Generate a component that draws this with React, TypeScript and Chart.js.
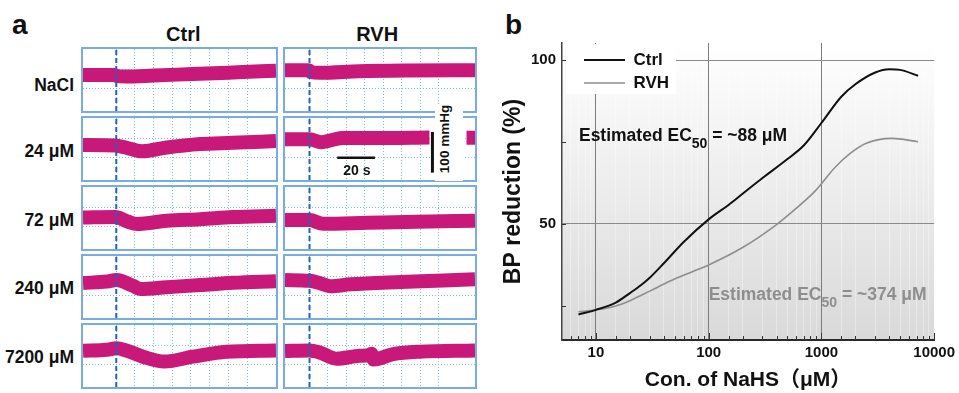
import React, { useEffect, useRef } from 'react';
import { Chart, registerables } from 'chart.js';

Chart.register(...registerables);

const FONT = "'Liberation Sans', Arial, Helvetica, 'Noto Sans CJK SC', sans-serif";

// ---------------- Panel a : blood-pressure recordings ----------------
const groups = ['Ctrl', 'RVH'];
const doseLabels = ['NaCl', '24 μM', '72 μM', '240 μM', '7200 μM'];
const stimulusTime = 10; // s, NaHS / NaCl injection
const ctrlWindow = [-7.8, 95.5]; // s
const rvhWindow = [-3.3, 99.8]; // s
const bpWindow = [-7, 153]; // display units

// trace centre lines (time in s, pressure in display units)
const ctrlNaClT = [-7.8, 9, 10.5, 15, 30, 51, 70, 81, 95.5];
const ctrlNaClP = [86, 86, 83, 82, 84.5, 88.5, 92, 94.3, 96.7];
const rvhNaClT = [-3.3, 9.5, 11, 15.5, 37, 64, 99.8];
const rvhNaClP = [98, 98, 93, 91.5, 95.7, 97.5, 98];

const ctrl24T = [-7.8, 9.5, 17, 24, 37, 55, 72, 95.5];
const ctrl24P = [83.5, 82, 74, 67, 77, 86, 89, 93.5];
const rvh24T = [-3.3, 10, 16.4, 22, 28.2, 46.3, 75.1, 85, 95.2, 99.8];
const rvh24P = [98.2, 98.2, 90.5, 96, 101.3, 101.3, 102.6, null, 102, 102];

const ctrl72T = [-7.8, 9.5, 16, 21.2, 37, 55, 72.5, 95.5];
const ctrl72P = [74.3, 75.6, 64, 57.5, 65.8, 69.9, 75.6, 78.7];
const rvh72T = [-3.3, 10, 17.5, 41.3, 68.4, 99.8];
const rvh72P = [67.8, 67.8, 58, 60.6, 63.5, 65.8];

const ctrl240T = [-7.8, 5, 10, 19, 22.8, 37, 55, 72.5, 95.5];
const ctrl240P = [83.3, 87, 91, 76, 67.8, 72.5, 78, 83.8, 88];
const rvh240T = [-3.3, 10, 15, 21.3, 32.2, 59.4, 99.8];
const rvh240P = [91, 89, 84, 75, 79.9, 85.9, 93];

const ctrl7200T = [-7.8, 5, 10, 15.3, 24.3, 35.8, 51, 68.8, 95.5];
const ctrl7200P = [86.4, 89, 92.8, 87.2, 71.2, 58.8, 71.2, 84.1, 87.2];
const rvh7200T = [-3.3, 10, 15.5, 24.6, 37.2, 42.2, 43.5, 44.8, 55.4, 69.8, 99.8];
const rvh7200P = [85.9, 87.2, 82, 66, 73.5, 75, 79, 64, 77.6, 84.1, 87.2];

// scale bars (20 s, 100 mmHg)
const scaleBarTime = [25, 45.5];
const scaleBarTimeLevel = 50.5;
const scaleBarPressure = [12, 117];
const scaleBarPressureAt = 76.7;

// ---------------- Panel b : concentration–response ----------------
const ctrlConc = [7, 10, 15, 20, 25, 30, 40, 60, 100, 150, 200, 300, 500, 700, 1000, 1500, 2000, 3000, 4000, 5000, 7200];
const ctrlResp = [22.4, 23.8, 26.0, 28.9, 31.3, 33.6, 38.0, 44.5, 51.4, 55.8, 59.2, 64, 69.8, 74, 80.8, 88.8, 92.6, 96.2, 97.2, 97, 95.2];
const rvhConc = [7, 10, 15, 20, 30, 45, 70, 100, 200, 400, 600, 900, 1300, 1800, 2500, 4200, 7200];
const rvhResp = [23.2, 23.8, 25.0, 26.6, 29.5, 32.5, 35.3, 37.5, 42.8, 49.8, 54.8, 60.4, 67, 71.5, 74.6, 76.1, 75.1];
const ec50 = [88, 374];
const concLabelled = [10, 100, 1000, 10000];
const respLabelled = [50, 100];

// ---------------- helpers ----------------
const toPts = (xs: number[], ys: (number | null)[]) => xs.map((x, i) => ({ x, y: ys[i] }));

const TRACE = '#c8197a';
const STIM = '#1f63bf';
const GRID = 'rgba(95,185,198,0.85)';
const CLEAR = 'rgba(0,0,0,0)';

const onStep = (c: any, s: number) => {
  if (!c.tick) return CLEAR;
  const r = c.tick.value / s;
  return Math.abs(r - Math.round(r)) < 1e-6 ? GRID : CLEAR;
};

function traceConfig(t: number[], p: (number | null)[], win: number[], extra: any[] = []) {
  return {
    type: 'line',
    data: {
      datasets: [
        ...extra,
        {
          data: [{ x: stimulusTime, y: bpWindow[0] }, { x: stimulusTime, y: bpWindow[1] }],
          borderColor: STIM, borderWidth: 2, borderDash: [5, 3], pointRadius: 0,
        },
        {
          data: toPts(t, p), borderColor: TRACE, borderWidth: 14, pointRadius: 0,
          cubicInterpolationMode: 'monotone', borderCapStyle: 'butt', borderJoinStyle: 'round', spanGaps: false,
        },
      ],
    },
    options: {
      animation: false, responsive: false, events: [],
      layout: { padding: 0 },
      plugins: { legend: { display: false }, tooltip: { enabled: false } },
      scales: {
        x: {
          type: 'linear', min: win[0], max: win[1],
          ticks: { display: false, stepSize: 10 },
          grid: { drawTicks: false, color: (c: any) => onStep(c, 10), lineWidth: 1 },
          border: { display: false, dash: [1, 2] },
        },
        y: {
          type: 'linear', min: bpWindow[0], max: bpWindow[1],
          ticks: { display: false, stepSize: 50 },
          grid: { drawTicks: false, color: (c: any) => onStep(c, 50), lineWidth: 1 },
          border: { display: false, dash: [1, 2] },
        },
      },
    },
  };
}

const isDecade = (v: number) => {
  const l = Math.log10(v);
  return Math.abs(l - Math.round(l)) < 1e-9;
};

function drawEC(ctx: CanvasRenderingContext2D, x: number, y: number, value: number, color: string) {
  ctx.save();
  ctx.fillStyle = color;
  ctx.textBaseline = 'middle';
  ctx.textAlign = 'left';
  ctx.font = `bold 17.5px ${FONT}`;
  const a = 'Estimated EC';
  ctx.fillText(a, x, y);
  let w = ctx.measureText(a).width;
  ctx.font = `bold 14px ${FONT}`;
  ctx.fillText('50', x + w, y + 8);
  w += ctx.measureText('50').width;
  ctx.font = `bold 17.5px ${FONT}`;
  ctx.fillText(` = ~${value} μM`, x + w, y);
  ctx.restore();
}

const doseResponsePlugin = {
  id: 'doseResponseDecor',
  afterLayout(chart: any) {
    const lg = chart.legend;
    const ca = chart.chartArea;
    if (lg && ca) {
      lg.left = ca.left + 16;
      lg.top = ca.top + 2.5;
    }
  },
  beforeDraw(chart: any) {
    const { ctx, chartArea: ca } = chart;
    const g = ctx.createLinearGradient(0, ca.top, 0, ca.bottom);
    g.addColorStop(0, '#ffffff');
    g.addColorStop(1, '#d9d9d9');
    ctx.save();
    ctx.fillStyle = g;
    ctx.fillRect(ca.left, ca.top, ca.right - ca.left, ca.bottom - ca.top);
    ctx.restore();
  },
  afterDraw(chart: any) {
    const { ctx, chartArea: ca, scales } = chart;
    const xs = scales.x;
    const ys = scales.y;
    ctx.save();
    ctx.fillStyle = '#ffffff';
    ctx.fillRect(ca.left + 4, ca.top + 1, 110, 50);
    ctx.restore();
    if (chart.legend) chart.legend.draw();
    // inward tick marks
    ctx.save();
    ctx.strokeStyle = '#333';
    ctx.lineWidth = 1;
    ctx.beginPath();
    xs.ticks.forEach((tk: any) => {
      const v = tk.value;
      if (v <= xs.min) return;
      const px = Math.round(xs.getPixelForValue(v)) + 0.5;
      ctx.moveTo(px, ca.bottom);
      ctx.lineTo(px, ca.bottom - (isDecade(v) ? 7 : 4));
    });
    ys.ticks.forEach((tk: any) => {
      const v = tk.value;
      if (v <= ys.min || v >= ys.max) return;
      const py = Math.round(ys.getPixelForValue(v)) + 0.5;
      ctx.moveTo(ca.left, py);
      ctx.lineTo(ca.left + 4, py);
    });
    ctx.stroke();
    ctx.restore();
    drawEC(ctx, xs.getPixelForValue(7.07), ys.getPixelForValue(76.7), ec50[0], '#111111');
    drawEC(ctx, xs.getPixelForValue(100), ys.getPixelForValue(28.3), ec50[1], '#8e8e8e');
  },
};

function doseResponseConfig() {
  return {
    type: 'line',
    data: {
      datasets: [
        {
          label: 'Ctrl', data: toPts(ctrlConc, ctrlResp), borderColor: '#111111', borderWidth: 2,
          pointRadius: 0, cubicInterpolationMode: 'monotone',
        },
        {
          label: 'RVH', data: toPts(rvhConc, rvhResp), borderColor: '#8e8e8e', borderWidth: 1.6,
          pointRadius: 0, cubicInterpolationMode: 'monotone',
        },
      ],
    },
    options: {
      animation: false, responsive: false, events: [],
      layout: { padding: { top: 43, right: 22, left: 0, bottom: 0 } },
      plugins: {
        tooltip: { enabled: false },
        legend: {
          position: 'chartArea', align: 'start',
          labels: {
            usePointStyle: true, pointStyle: 'line', pointStyleWidth: 41, padding: 6, color: '#111',
            font: { family: FONT, size: 17, weight: 'bold' },
          },
        },
      },
      scales: {
        x: {
          type: 'logarithmic', min: 5, max: 10000,
          afterFit: (s: any) => { s.height = 53; },
          ticks: {
            autoSkip: false, maxRotation: 0, minRotation: 0, padding: 4, color: '#111',
            font: { family: FONT, size: 15, weight: 'bold' },
            callback: (v: any) => (concLabelled.some((c) => Math.abs(c - v) < 1e-6) ? String(Math.round(v)) : ''),
          },
          grid: {
            drawTicks: false, lineWidth: 1,
            color: (c: any) => {
              if (!c.tick) return CLEAR;
              const v = c.tick.value;
              if (v <= 5 || v >= 10000) return CLEAR;
              return isDecade(v) ? '#7d7d7d' : 'rgba(255,255,255,0.35)';
            },
          },
          border: { display: true, color: '#2a2a2a', width: 2 },
          title: {
            display: true, text: 'Con. of NaHS（μM）', color: '#111',
            font: { family: FONT, size: 21, weight: 'bold' }, padding: { top: 0, bottom: 0 },
          },
        },
        y: {
          type: 'linear', min: 14.6, max: 105.2,
          afterFit: (s: any) => { s.width = 82; },
          ticks: {
            stepSize: 25, autoSkip: false, padding: 6, color: '#111',
            font: { family: FONT, size: 15, weight: 'bold' },
            callback: (v: any) => (respLabelled.includes(v) ? String(v) : ''),
          },
          grid: {
            drawTicks: false, lineWidth: 1,
            color: (c: any) => (c.tick && respLabelled.includes(c.tick.value) ? '#8a8a8a' : CLEAR),
          },
          border: { display: true, color: '#444', width: 1.5 },
          title: {
            display: true, text: 'BP reduction (%)', color: '#111',
            font: { family: FONT, size: 23, weight: 'bold' }, padding: { top: 20, bottom: 0 },
          },
        },
      },
    },
    plugins: [doseResponsePlugin],
  };
}

// ---------------- components ----------------
function ChartCanvas({ width, height, make, style }: any) {
  const ref = useRef<HTMLCanvasElement | null>(null);
  useEffect(() => {
    const chart = new Chart(ref.current as HTMLCanvasElement, make());
    return () => chart.destroy();
  }, []);
  return <canvas ref={ref} width={width} height={height} style={{ display: 'block', width, height, ...style }} />;
}

function Txt({ x, y, size, align = 'left', color = '#111', children, extra = {} }: any) {
  const shift = align === 'center' ? 'translateX(-50%)' : align === 'right' ? 'translateX(-100%)' : 'none';
  return (
    <div
      style={{
        position: 'absolute', left: x, top: y - size * 0.49, fontSize: size, lineHeight: `${size}px`,
        fontWeight: 700, color, whiteSpace: 'nowrap', transform: shift, fontFamily: FONT, ...extra,
      }}
    >
      {children}
    </div>
  );
}

const traces = [
  [
    [ctrlNaClT, ctrlNaClP], [ctrl24T, ctrl24P], [ctrl72T, ctrl72P], [ctrl240T, ctrl240P], [ctrl7200T, ctrl7200P],
  ],
  [
    [rvhNaClT, rvhNaClP], [rvh24T, rvh24P], [rvh72T, rvh72P], [rvh240T, rvh240P], [rvh7200T, rvh7200P],
  ],
];

const colLeft = [81, 283];
const colWidth = [197, 194];
const rowTop = [47, 116, 185, 254, 323];
const rowH = 66;
const rowLabelY = [85.8, 152, 220.5, 288.7, 357.5];
const colTitleX = [183.3, 377.2];

function scaleBars() {
  return [
    {
      data: [{ x: scaleBarTime[0], y: scaleBarTimeLevel }, { x: scaleBarTime[1], y: scaleBarTimeLevel }],
      borderColor: '#111', borderWidth: 2.5, pointRadius: 0,
    },
    {
      data: [{ x: scaleBarPressureAt, y: scaleBarPressure[0] }, { x: scaleBarPressureAt, y: scaleBarPressure[1] }],
      borderColor: '#111', borderWidth: 3, pointRadius: 0,
    },
  ];
}

export default function App() {
  const panels: any[] = [];
  groups.forEach((g, ci) => {
    doseLabels.forEach((d, ri) => {
      const [t, p] = traces[ci][ri] as any;
      const win = ci === 0 ? ctrlWindow : rvhWindow;
      const extra = ci === 1 && ri === 1 ? scaleBars() : [];
      const w = colWidth[ci];
      panels.push(
        <div
          key={`${g}-${d}`}
          style={{
            position: 'absolute', left: colLeft[ci], top: rowTop[ri], width: w, height: rowH,
            border: '2px solid #79ade0', boxSizing: 'border-box', background: '#fff',
          }}
        >
          <ChartCanvas width={w - 4} height={rowH - 4} make={() => traceConfig(t, p, win, extra)} />
        </div>
      );
    });
  });

  return (
    <div
      style={{
        position: 'absolute', left: 0, top: 0, width: 959, height: 393, background: '#fff',
        overflow: 'hidden', fontFamily: FONT,
      }}
    >
      <Txt x={12} y={25} size={28}>a</Txt>
      {groups.map((g, i) => (
        <Txt key={g} x={colTitleX[i]} y={33.7} size={20} align="center">{g}</Txt>
      ))}
      {doseLabels.map((d, i) => (
        <Txt key={d} x={74} y={rowLabelY[i]} size={17.5} align="right">{d}</Txt>
      ))}
      {panels}
      <div style={{ position: 'absolute', left: 434.5, top: 104, width: 28.5, height: 77, background: '#fff' }} />
      <div
        style={{
          position: 'absolute', left: 445, top: 139, transform: 'translate(-50%, -50%) rotate(-90deg)',
          fontSize: 13.5, lineHeight: '14px', fontWeight: 700, whiteSpace: 'nowrap', color: '#111', fontFamily: FONT,
        }}
      >
        100 mmHg
      </div>
      <Txt x={356.8} y={170} size={14} align="center">20 s</Txt>
      <Txt x={505} y={25} size={28}>b</Txt>
      <div style={{ position: 'absolute', left: 480, top: 0 }}>
        <ChartCanvas width={479} height={393} make={doseResponseConfig} />
      </div>
    </div>
  );
}
